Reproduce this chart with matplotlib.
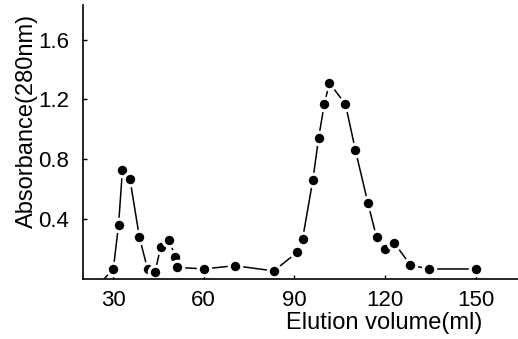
import matplotlib
matplotlib.use("Agg")
import matplotlib.pyplot as plt

plt.rcParams['font.family'] = ['Liberation Sans', 'DejaVu Sans']

# Elution profile (volume in ml, absorbance at 280 nm); first entry is the baseline start
volume = [27.0, 30.1, 31.8, 33.1, 35.6, 38.7, 41.4, 43.9, 45.8, 48.6, 50.5, 51.1,
          60.2, 70.2, 83.2, 90.9, 92.7, 96.1, 98.0, 99.9, 101.6, 106.9, 110.2,
          114.3, 117.2, 119.9, 123.1, 128.4, 134.5, 150.0]
absorbance = [0.0, 0.07, 0.36, 0.73, 0.665, 0.28, 0.067, 0.05, 0.215, 0.26, 0.15, 0.078,
              0.067, 0.089, 0.054, 0.178, 0.267, 0.66, 0.94, 1.17, 1.31, 1.167, 0.86,
              0.51, 0.278, 0.2, 0.24, 0.093, 0.067, 0.067]

x_ticks = [30, 60, 90, 120, 150]
y_ticks = [0.4, 0.8, 1.2, 1.6]
y_tick_labels = ["0.4", "0.8", "1.2", "1.6"]

fig = plt.figure(figsize=(5.18, 3.39), dpi=100)
ax = fig.add_axes([0.160, 0.177, 0.84, 0.808])

ax.plot(volume, absorbance, color='black', lw=1.1, marker='o', ms=9,
        mfc='black', mec='white', mew=2.2, markevery=list(range(1, len(volume))))

ax.set_xlim(20, 164)
ax.set_ylim(0, 1.83)
ax.set_xticks(x_ticks)
ax.set_yticks(y_ticks)
ax.set_yticklabels(y_tick_labels)
for s in ('top', 'right'):
    ax.spines[s].set_visible(False)
for s in ('left', 'bottom'):
    ax.spines[s].set_linewidth(1.2)
ax.tick_params(direction='in', length=3, width=1, labelsize=16)
ax.tick_params(axis='y', pad=10)
ax.tick_params(axis='x', pad=8)

ax.set_ylabel('Absorbance(280nm)', fontsize=17)
ax.set_xlabel('Elution volume(ml)', fontsize=17)
ax.yaxis.set_label_coords(-0.128, (121 - 279) / -274)
ax.xaxis.set_label_coords((384 - 83) / 435, -(323 - 279) / 274)
ax.xaxis.label.set_va('center')
ax.yaxis.label.set_va('center')

fig.savefig('out.png', dpi=100)
